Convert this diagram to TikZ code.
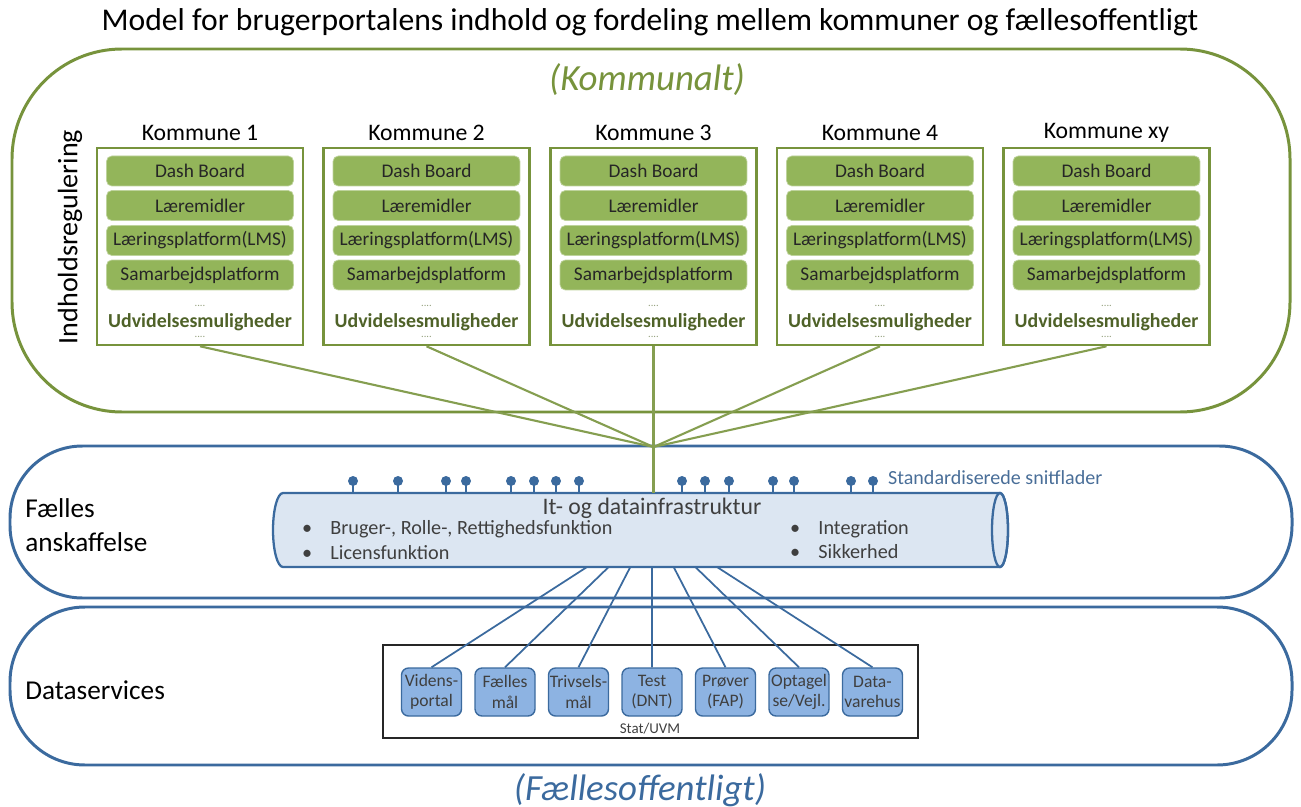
\documentclass[tikz,border=0pt]{standalone}
\usepackage{fontspec}
\setmainfont{Carlito}
\usetikzlibrary{positioning}

\definecolor{kgreen}{HTML}{77933C}
\definecolor{mgreen}{HTML}{93B55A}
\definecolor{dgreen}{HTML}{4F6228}
\definecolor{fblue}{HTML}{3B6A9E}
\definecolor{lblue}{HTML}{DCE6F2}
\definecolor{sblue}{HTML}{8DB3E2}
\definecolor{tgray}{HTML}{3F3F3F}

\begin{document}
\begin{tikzpicture}[x=0.02cm, y=-0.02cm,
    kboks/.style={draw=kgreen, line width=1.5pt, fill=white, minimum width=4.12cm, minimum height=3.94cm, inner sep=0pt},
    modul/.style={fill=mgreen, draw=mgreen!60!white, rounded corners=3pt, minimum width=3.74cm, minimum height=0.6cm, inner sep=0pt, text=black!85, font=\fontsize{11}{13}\selectfont},
    tjeneste/.style={fill=sblue, draw=fblue, line width=0.8pt, rounded corners=4pt, minimum width=1.2cm, minimum height=0.96cm, inner sep=0pt, align=center, text=tgray, font=\fontsize{10}{11.5}\selectfont},
    prikker/.style={inner sep=0pt, text=dgreen!60, font=\fontsize{6}{6}\selectfont},
    gline/.style={draw=kgreen!90, line width=1.2pt},
    bline/.style={draw=fblue, line width=1pt}]
    \useasboundingbox (0,0) rectangle (1301,807);

    \draw (650,22) node(title) {\fontsize{18}{22}\selectfont Model for brugerportalens indhold og fordeling mellem kommuner og fællesoffentligt};

    % kommunalt niveau
    \draw[draw=kgreen, line width=1.7pt, rounded corners=2.2cm] (12,49) rectangle (1290,412);
    \draw (647,80) node(kommunalt) {\fontsize{21}{25}\selectfont\itshape\color{kgreen}(Kommunalt)};
    \draw (70,237) node[rotate=90](indhold) {\fontsize{16}{19}\selectfont Indholdsregulering};

    % faelles anskaffelse og dataservices
    \draw[draw=fblue, line width=1.7pt, rounded corners=1.45cm] (10,446) rectangle (1292,598);
    \draw[draw=fblue, line width=1.7pt, rounded corners=1.5cm] (10,607) rectangle (1292,765);
    \draw (25,525) node[anchor=west, align=left, inner sep=0pt, font=\fontsize{15.5}{19.5}\selectfont](anskaf) {Fælles\\anskaffelse};
    \draw (25,690) node[anchor=west, inner sep=0pt, font=\fontsize{15.5}{19}\selectfont](datasrv) {Dataservices};
    \draw (640,790) node(faelles) {\fontsize{21}{25}\selectfont\itshape\color{fblue}(Fællesoffentligt)};

    \coordinate (hub) at (653.5,447);

    \foreach \i/\x/\navn in {1/200/Kommune 1, 2/426.5/Kommune 2, 3/653.5/Kommune 3, 4/880/Kommune 4, 5/1106.5/Kommune xy} {
        \draw (\x,133) node(navn\i) {\fontsize{13.5}{15}\selectfont \navn};
        \node[kboks] (boks\i) at (\x,246.5) {};
        \node[modul] (dash\i) at (\x,171) {Dash Board};
        \node[modul] (laer\i) at (\x,205.5) {Læremidler};
        \node[modul] (lms\i) at (\x,240.5) {Læringsplatform(LMS)};
        \node[modul] (samar\i) at (\x,275) {Samarbejdsplatform};
        \node[prikker] (prik\i) at (\x,306) {....};
        \draw (\x,322) node[inner sep=0pt](udv\i) {\fontsize{11.3}{12}\selectfont\bfseries\color{dgreen}Udvidelsesmuligheder};
        \node[prikker] (prikb\i) at (\x,337) {....};
        \draw[gline] (boks\i.south) -- (hub);
    }

    % it- og datainfrastruktur
    \filldraw[fill=lblue, draw=fblue, line width=1.3pt] (1000,493) -- (283,493)
        arc[start angle=270, end angle=90, x radius=10, y radius=37] -- (1000,567)
        arc[start angle=90, end angle=-90, x radius=8, y radius=37] -- cycle;
    \draw[fblue, line width=1.3pt] (1000,530) ellipse [x radius=8, y radius=37];
    \node[minimum width=14.54cm, minimum height=1.48cm, inner sep=0pt] (infra) at (641,530) {};
    \draw[gline] (hub) -- (hub |- infra.north);

    \draw (652,508) node(infratitel) {\fontsize{13.5}{16}\selectfont\color{tgray}It- og datainfrastruktur};
    \draw (296,529) node[anchor=west](punkt1) {\fontsize{11.5}{13}\selectfont\color{tgray}\textbullet\hspace{0.9em}Bruger-, Rolle-, Rettighedsfunktion};
    \draw (296,553) node[anchor=west](punkt2) {\fontsize{11.5}{13}\selectfont\color{tgray}\textbullet\hspace{0.9em}Licensfunktion};
    \draw (784,529) node[anchor=west](punkt3) {\fontsize{11.5}{13}\selectfont\color{tgray}\textbullet\hspace{0.9em}Integration};
    \draw (784,552) node[anchor=west](punkt4) {\fontsize{11.5}{13}\selectfont\color{tgray}\textbullet\hspace{0.9em}Sikkerhed};

    % snitflader
    \foreach \p in {353,398,446,466,511,534,556,579,682,705,729,773,794,851,873} {
        \draw[fblue, line width=1.2pt] (\p,493) -- (\p,482);
        \fill[fblue] (\p,481) circle [radius=5];
    }
    \draw (882,478) node[anchor=west](snit) {\fontsize{11.4}{13}\selectfont\color{fblue!80!gray}Standardiserede snitflader};

    % stat/uvm
    \draw[black!85, line width=1pt] (383,645) rectangle (918,738);
    \draw (650,729) node(stat) {\fontsize{8.5}{10}\selectfont\color{tgray}Stat/UVM};
    \foreach \i/\tekst in {1/{Videns-\\portal}, 2/{Fælles\\mål}, 3/{Trivsels-\\mål}, 4/{Test\\(DNT)}, 5/{Prøver\\(FAP)}, 6/{Optagel\\se/Vejl.}, 7/{Data-\\varehus}} {
        \node[tjeneste] (tj\i) at (652+73.5*\i-294,692) {\tekst};
        \coordinate (ud\i) at (565.3+21.67*\i,567);
        \draw[bline] (ud\i) -- (tj\i.north);
    }
\end{tikzpicture}
\end{document}
